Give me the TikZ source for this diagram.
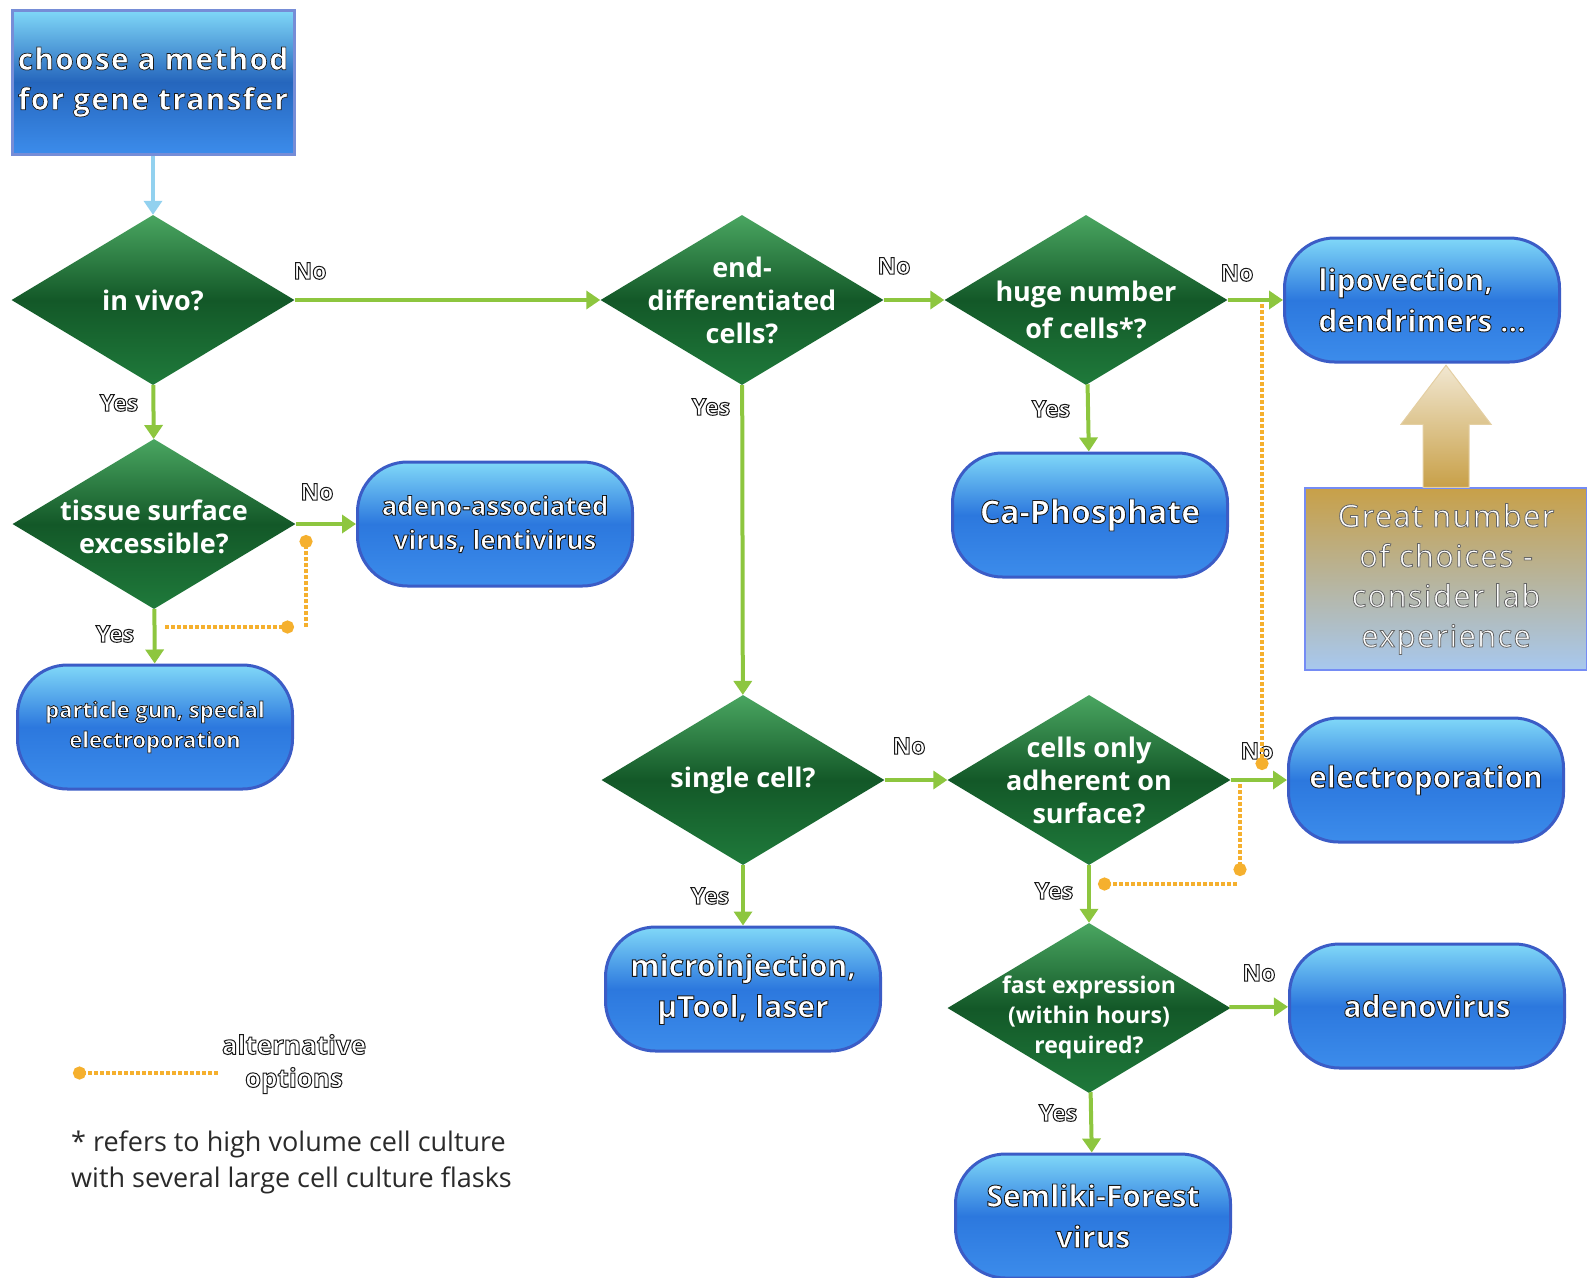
\documentclass[tikz,border=0pt]{standalone}
\usepackage{fontspec}
\setmainfont{Open Sans}
\newfontfamily\widefont[LetterSpace=4]{Open Sans}
\usetikzlibrary{shapes.geometric,arrows.meta,calc}

\definecolor{leaf}{HTML}{8DC63F}
\definecolor{amber}{HTML}{F5B02E}
\definecolor{sky}{HTML}{92D1EF}
\definecolor{gtop}{HTML}{4AA661}
\definecolor{gmid}{HTML}{135828}
\definecolor{gbot}{HTML}{1F7A3B}
\definecolor{btop}{HTML}{80D8F8}
\definecolor{bmid}{HTML}{2C78DE}
\definecolor{bbot}{HTML}{3C8CEB}
\definecolor{bedge}{HTML}{3B5CC6}
\definecolor{gold}{HTML}{C8A048}
\definecolor{mist}{HTML}{A7C8EF}
\definecolor{ink}{HTML}{2A2A2A}

% outlined white text (fill + stroke)
\def\rimw{0.9}
\def\rimc{0.1 0.1 0.1}
\newcommand{\rimtext}[1]{\special{pdf:literal direct 2 Tr \rimc\space RG \rimw\space w}#1\special{pdf:literal direct 0 Tr}}

\tikzset{
  start/.style={rectangle, minimum width=282pt, minimum height=144pt, draw=bedge!70!white, line width=3pt,
    top color=btop, bottom color=bbot, middle color=bmid!85!black, text=white,
    font=\widefont\fontsize{30}{40}\selectfont\bfseries\def\rimw{0.7}, align=center},
  dia/.style={diamond, minimum width=283pt, minimum height=170pt, inner sep=0pt,
    top color=gtop, bottom color=gbot, middle color=gmid},
  dtext/.style={text=white, font=\fontsize{27}{33}\selectfont\bfseries, align=center},
  blob/.style={rectangle, rounded corners=50pt, minimum width=275pt, minimum height=124pt, draw=bedge, line width=3pt,
    top color=btop, bottom color=bbot, middle color=bmid, text=white,
    font=\fontsize{30}{41}\selectfont\bfseries, align=center},
  yn/.style={text=white, font=\fontsize{23}{26}\selectfont\bfseries\def\rimw{1.0}},
  keytext/.style={text=white, font=\fontsize{26}{33}\selectfont\bfseries\def\rimw{1.0}, align=center},
  great/.style={rectangle, minimum width=282pt, minimum height=182pt, draw=mist!70!blue, line width=1.5pt,
    top color=gold, bottom color=mist, text=white,
    font=\widefont\fontsize{31}{40}\selectfont\def\rimw{0.8}\def\rimc{0.4 0.4 0.4}, align=center},
  note/.style={text=ink, font=\fontsize{27}{36}\selectfont, align=left, inner sep=0pt},
  go/.style={leaf, line width=4pt, -{Triangle[length=14pt,width=18pt]}},
  feed/.style={sky, line width=4pt, -{Triangle[length=14pt,width=18pt]}},
  alt/.style={amber, line width=4pt, dash pattern=on 4pt off 2pt, -{Circle[length=13pt]}},
}

\begin{document}
\begin{tikzpicture}[x=1pt,y=-1pt]
  \useasboundingbox (0,0) rectangle (1587,1277);

  % start
  \node[start] (begin) at (153,82) {\rimtext{choose a method}\\\rimtext{for gene transfer}};

  % questions
  \node[dia] (vivo) at (153,300) {};
  \node[dtext] (vivo-q) at (vivo) {in vivo?};
  \node[dia] (tissue) at (154,524) {};
  \node[dtext] (tissue-q) at ($(tissue)+(0,3)$) {tissue surface\\excessible?};
  \node[dia] (enddiff) at (742,300) {};
  \node[dtext] (enddiff-q) at (enddiff) {end-\\differentiated\\cells?};
  \node[dia] (huge) at (1086,300) {};
  \node[dtext, font=\fontsize{27}{37}\selectfont\bfseries] (huge-q) at ($(huge)+(0,10)$) {huge number\\of cells*?};
  \node[dia] (single) at (743,780) {};
  \node[dtext] (single-q) at (single) {single cell?};
  \node[dia] (adher) at (1089,780) {};
  \node[dtext] (adher-q) at (adher) {cells only\\adherent on\\surface?};
  \node[dia] (fast) at (1089,1008) {};
  \node[dtext, font=\fontsize{23}{30}\selectfont\bfseries] (fast-q) at ($(fast)+(0,9)$) {fast expression\\(within hours)\\required?};

  % methods
  \node[blob, font=\fontsize{26}{34}\selectfont\bfseries] (aav) at (495,524)
    {\rimtext{adeno-associated}\\\rimtext{virus, lentivirus}};
  \node[blob, font=\fontsize{22}{30}\selectfont\bfseries\def\rimw{0.8}] (gun) at (155,727)
    {\rimtext{particle gun, special}\\\rimtext{electroporation}};
  \node[blob, font=\fontsize{32}{41}\selectfont\bfseries] (caph) at (1090,515) {\rimtext{Ca-Phosphate}};
  \node[blob, align=left] (lipo) at (1422,300) {\rimtext{lipovection,}\\\rimtext{dendrimers ...}};
  \node[blob] (electro) at (1426,780) {\rimtext{electroporation}};
  \node[blob] (micro) at (743,989) {\rimtext{microinjection,}\\\rimtext{µTool, laser}};
  \node[blob] (adeno) at (1427,1006) {\rimtext{adenovirus}};
  \node[blob] (semliki) at (1093,1216) {\rimtext{Semliki-Forest}\\\rimtext{virus}};

  % hint
  \node[great] (choices) at (1446,579) {\rimtext{Great number}\\\rimtext{of choices -}\\\rimtext{consider lab}\\\rimtext{experience}};
  \shade[top color=gold!25!white, bottom color=gold, draw=gold!50!white, line width=1pt]
    ($(choices.north)+(-23,0)$) -- ++(0,-63) -- ++(-22,0) -- ($(choices.north)+(0,-122)$)
    -- ($(choices.north)+(45,-63)$) -- ++(-22,0) -- ($(choices.north)+(23,0)$) -- cycle;

  % connectors
  \draw[feed] (begin) -- (vivo);
  \draw[go] (vivo) -- (enddiff);
  \draw[go] (vivo) -- (tissue);
  \draw[go] (tissue) -- (aav);
  \draw[go] (tissue) -- (gun);
  \draw[go] (enddiff) -- (huge);
  \draw[go] (enddiff) -- (single);
  \draw[go] (huge) -- (lipo);
  \draw[go] (huge) -- (caph);
  \draw[go] (single) -- (adher);
  \draw[go] (single) -- (micro);
  \draw[go] (adher) -- (electro);
  \draw[go] (adher) -- (fast);
  \draw[go] (fast) -- (adeno);
  \draw[go] (fast) -- (semliki);

  % yes / no
  \node[yn] (vivo-no) at (310,271) {\rimtext{No}};
  \node[yn] (vivo-yes) at (119,403) {\rimtext{Yes}};
  \node[yn] (tissue-no) at (317,492) {\rimtext{No}};
  \node[yn] (tissue-yes) at (115,634) {\rimtext{Yes}};
  \node[yn] (enddiff-no) at (894,266) {\rimtext{No}};
  \node[yn] (enddiff-yes) at (711,407) {\rimtext{Yes}};
  \node[yn] (huge-no) at (1237,273) {\rimtext{No}};
  \node[yn] (huge-yes) at (1051,409) {\rimtext{Yes}};
  \node[yn] (single-no) at (909,746) {\rimtext{No}};
  \node[yn] (single-yes) at (710,896) {\rimtext{Yes}};
  \node[yn] (adher-no) at (1257,751) {\rimtext{No}};
  \node[yn] (adher-yes) at (1054,891) {\rimtext{Yes}};
  \node[yn] (fast-no) at (1259,973) {\rimtext{No}};
  \node[yn] (fast-yes) at (1058,1113) {\rimtext{Yes}};

  % alternative options
  \coordinate (t1) at (165,627);
  \coordinate (t2) at (294,627);
  \coordinate (t3) at (306,627);
  \coordinate (t4) at (306,535);
  \draw[alt] (t1) -- (t2);
  \draw[alt] (t3) -- (t4);
  \coordinate (h1) at (1262,304);
  \coordinate (h2) at (1262,770);
  \draw[alt] (h1) -- (h2);
  \coordinate (c1) at (1240,784);
  \coordinate (c2) at (1240,876);
  \coordinate (c3) at (1237,884);
  \coordinate (c4) at (1098,884);
  \draw[alt] (c1) -- (c2);
  \draw[alt] (c3) -- (c4);

  % legend
  \coordinate (k1) at (218,1073);
  \coordinate (k2) at (73,1073);
  \draw[alt] (k1) -- (k2);
  \node[keytext] (key) at (294,1064) {\rimtext{alternative}\\\rimtext{options}};
  \node[note, anchor=north west] (footnote) at (71,1131)
    {* refers to high volume cell culture\\with several large cell culture flasks};
\end{tikzpicture}
\end{document}
